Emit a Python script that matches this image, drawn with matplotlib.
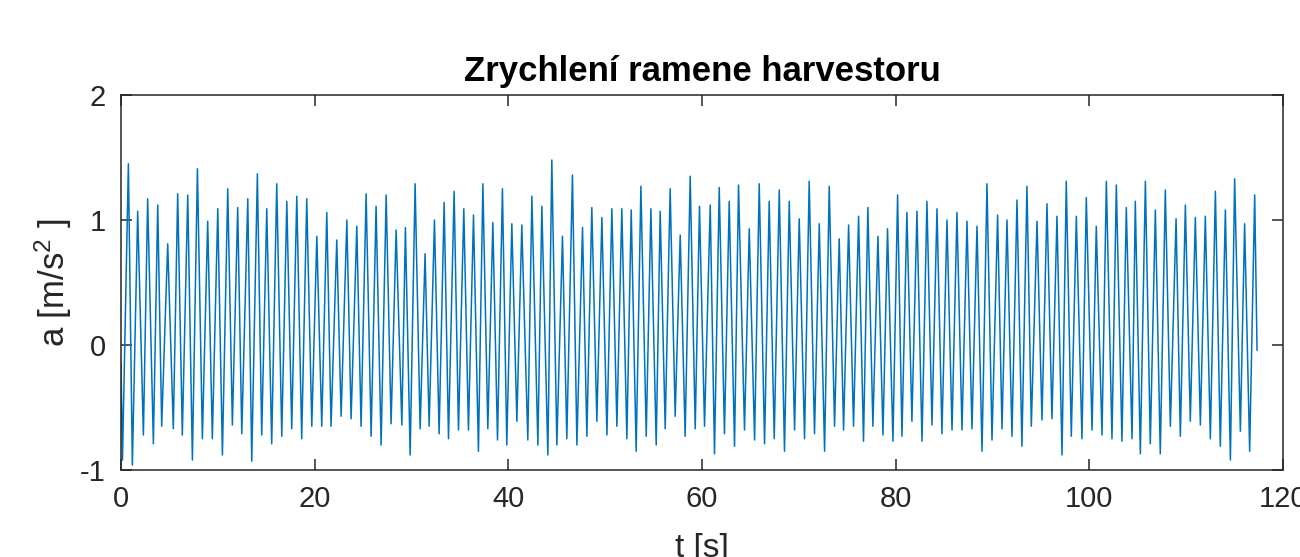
import matplotlib
matplotlib.use("Agg")
import matplotlib.pyplot as plt
import numpy as np

# =========================
# data (peaks / troughs of the signal)
# =========================
peak_t = [0.76, 1.72, 2.75, 3.79, 4.82, 5.85, 6.89, 7.89, 8.95, 9.99, 11.02, 12.05, 13.09, 14.08,
          15.05, 16.08, 17.12, 18.15, 19.18, 20.22, 21.25, 22.28, 23.32, 24.35, 25.31, 26.34, 27.38, 28.41, 29.37,
          30.37, 31.40, 32.37, 33.37, 34.40, 35.40, 36.40, 37.37, 38.40, 39.39, 40.36, 41.39, 42.43, 43.46, 44.49,
          45.59, 46.62, 47.66, 48.62, 49.66, 50.69, 51.72, 52.69, 53.69, 54.72, 55.68, 56.71, 57.75, 58.78, 59.74,
          60.85, 61.78, 62.81, 63.77, 64.88, 65.91, 66.94, 67.98, 69.01, 70.04, 71.07, 72.11, 73.14, 74.17,
          75.14, 76.17, 77.13, 78.17, 79.16, 80.20, 81.16, 82.20, 83.23, 84.27, 85.30, 86.33, 87.37, 88.40, 89.43,
          90.53, 91.50, 92.53, 93.56, 94.60, 95.63, 96.66, 97.62, 98.66, 99.69, 100.72, 101.76, 102.79, 103.82,
          104.75, 105.79, 106.82, 107.85, 108.96, 109.92, 110.95, 111.98, 113.02, 114.05, 115.01, 116.04, 117.08]
peak_a = [1.45, 1.07, 1.17, 1.12, 0.81, 1.21, 1.20, 1.41, 0.99, 1.09, 1.25, 1.10, 1.17, 1.37,
          1.09, 1.29, 1.15, 1.19, 1.17, 0.87, 1.06, 0.84, 1.00, 0.95, 1.21, 1.11, 1.20, 0.92, 0.94,
          1.29, 0.73, 1.00, 1.14, 1.23, 1.09, 1.04, 1.29, 0.98, 1.25, 0.97, 0.96, 1.19, 1.11, 1.48,
          0.87, 1.36, 0.94, 1.10, 1.02, 1.09, 1.09, 1.08, 1.27, 1.09, 1.07, 1.25, 0.88, 1.35, 1.11,
          1.12, 1.26, 1.15, 1.28, 0.93, 1.29, 1.15, 1.24, 1.15, 1.01, 1.31, 0.97, 1.27, 0.85,
          0.96, 1.03, 1.10, 0.87, 0.93, 1.20, 1.06, 1.07, 1.15, 1.09, 1.00, 1.06, 0.99, 0.95, 1.29,
          1.04, 1.00, 1.16, 1.27, 0.99, 1.13, 1.03, 1.31, 1.03, 1.18, 0.95, 1.31, 1.28, 1.10,
          1.15, 1.31, 1.08, 1.24, 1.01, 1.12, 1.02, 1.03, 1.23, 1.08, 1.33, 0.97, 1.20]

trough_t = [0.15, 1.17, 2.31, 3.34, 4.20, 5.40, 6.33, 7.37, 8.40, 9.43, 10.47, 11.50, 12.47, 13.50, 14.53,
            15.56, 16.60, 17.63, 18.66, 19.70, 20.73, 21.69, 22.73, 23.76, 24.79, 25.83, 26.86, 27.89, 29.00,
            29.86, 30.89, 31.82, 32.85, 33.82, 34.85, 35.88, 36.91, 37.88, 38.88, 39.84, 40.88, 42.01, 43.05, 44.08,
            45.01, 46.04, 47.08, 48.11, 49.14, 50.18, 51.21, 52.24, 53.20, 54.24, 55.27, 56.20, 57.23, 58.26, 59.30,
            60.26, 61.29, 62.32, 63.36, 64.39, 65.43, 66.46, 67.46, 68.52, 69.56, 70.59, 71.62, 72.66, 73.69,
            74.62, 75.65, 76.68, 77.65, 78.69, 79.72, 80.65, 81.68, 82.72, 83.75, 84.78, 85.82, 86.85, 87.88, 88.92,
            89.95, 90.98, 92.01, 93.04, 94.01, 95.11, 96.14, 97.18, 98.14, 99.24, 100.28, 101.31, 102.34, 103.37, 104.41,
            105.27, 106.30, 107.33, 108.37, 109.40, 110.43, 111.47, 112.50, 113.53, 114.57, 115.60, 116.56]
trough_a = [-0.92, -0.96, -0.72, -0.79, -0.65, -0.67, -0.72, -0.92, -0.75, -0.75, -0.88, -0.64, -0.71, -0.93, -0.72,
            -0.79, -0.73, -0.67, -0.75, -0.65, -0.65, -0.65, -0.57, -0.59, -0.65, -0.73, -0.80, -0.63, -0.64,
            -0.88, -0.67, -0.65, -0.71, -0.75, -0.68, -0.68, -0.85, -0.67, -0.76, -0.80, -0.61, -0.76, -0.80, -0.88,
            -0.80, -0.75, -0.80, -0.73, -0.61, -0.72, -0.65, -0.75, -0.85, -0.73, -0.80, -0.67, -0.57, -0.73, -0.67,
            -0.65, -0.87, -0.71, -0.81, -0.68, -0.76, -0.79, -0.75, -0.85, -0.68, -0.75, -0.71, -0.85, -0.65,
            -0.68, -0.65, -0.77, -0.65, -0.72, -0.77, -0.73, -0.61, -0.77, -0.64, -0.71, -0.68, -0.68, -0.67, -0.85,
            -0.76, -0.67, -0.73, -0.81, -0.65, -0.60, -0.59, -0.88, -0.73, -0.75, -0.68, -0.72, -0.75, -0.77, -0.75,
            -0.87, -0.79, -0.87, -0.65, -0.73, -0.61, -0.64, -0.75, -0.81, -0.92, -0.69, -0.85]

# first and last sample of the record
edge_t = [0.0, 117.32]
edge_a = [-0.15, -0.04]

x_ticks = [0, 20, 40, 60, 80, 100, 120]
y_ticks = [-1, 0, 1, 2]

# =========================
# plot
# =========================
plt.rcParams['font.family'] = ['Liberation Sans', 'DejaVu Sans']
plt.rcParams['mathtext.fontset'] = 'custom'
plt.rcParams['mathtext.rm'] = 'Liberation Sans'
plt.rcParams['mathtext.it'] = 'Liberation Sans:italic'
plt.rcParams['axes.unicode_minus'] = False

t = np.concatenate([peak_t, trough_t, edge_t])
a = np.concatenate([peak_a, trough_a, edge_a])
order = np.argsort(t)
t, a = t[order], a[order]

fig = plt.figure(figsize=(13, 5.57), dpi=100)
ax = fig.add_axes([0.0931, 0.1562, 0.8938, 0.6732])

ax.plot(t, a, color='#0072BD', lw=1.1)

ax.set_xlim(0, 120)
ax.set_ylim(-1, 2)
ax.set_xticks(x_ticks)
ax.set_yticks(y_ticks)

dark = '#262626'
for s in ax.spines.values():
    s.set_color(dark)
    s.set_linewidth(1.1)
ax.tick_params(direction='in', length=8, width=1.1, color=dark, labelcolor=dark,
               labelsize=21, top=True, right=True)
ax.tick_params(axis='x', pad=11)
ax.tick_params(axis='y', pad=11)

ax.set_title("Zrychlení ramene harvestoru", fontsize=25, fontweight='bold', pad=10)
ax.set_xlabel("t [s]", fontsize=24, color=dark, labelpad=14)
ax.set_ylabel("a [m/s$^2$ ]", fontsize=25, color=dark, labelpad=4)

fig.savefig("out.png", dpi=100)
plt.close(fig)
